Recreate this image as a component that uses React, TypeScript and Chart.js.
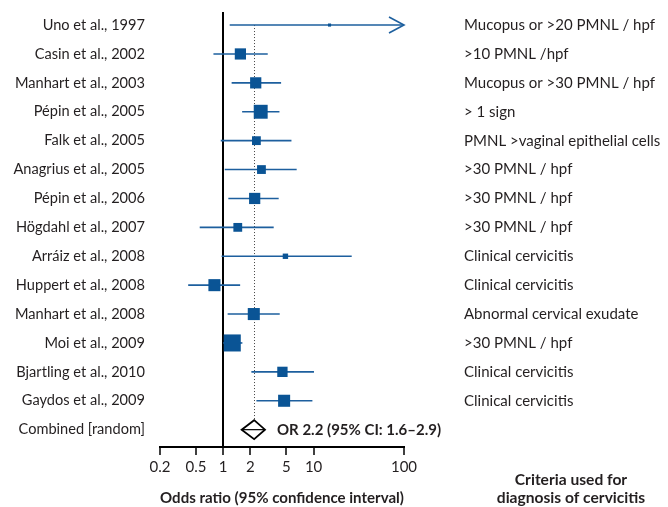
import React, { useEffect, useRef } from 'react';
import { Chart, registerables } from 'chart.js';

Chart.register(...registerables);

const studies = [
  'Uno et al., 1997',
  'Casin et al., 2002',
  'Manhart et al., 2003',
  'Pépin et al., 2005',
  'Falk et al., 2005',
  'Anagrius et al., 2005',
  'Pépin et al., 2006',
  'Högdahl et al., 2007',
  'Arráiz et al., 2008',
  'Huppert et al., 2008',
  'Manhart et al., 2008',
  'Moi et al., 2009',
  'Bjartling et al., 2010',
  'Gaydos et al., 2009',
  'Combined [random]',
];

const criteria = [
  'Mucopus or >20 PMNL / hpf',
  '>10 PMNL /hpf',
  'Mucopus or >30 PMNL / hpf',
  '> 1 sign',
  'PMNL >vaginal epithelial cells',
  '>30 PMNL / hpf',
  '>30 PMNL / hpf',
  '>30 PMNL / hpf',
  'Clinical cervicitis',
  'Clinical cervicitis',
  'Abnormal cervical exudate',
  '>30 PMNL / hpf',
  'Clinical cervicitis',
  'Clinical cervicitis',
  '',
];

const oddsRatios = [15, 1.55, 2.29, 2.6, 2.33, 2.65, 2.23, 1.45, 4.88, 0.8, 2.18, 1.26, 4.52, 4.72];
const ciLower = [1.18, 0.78, 1.24, 1.62, 0.94, 1.04, 1.14, 0.55, 0.96, 0.41, 1.12, 1.0, 2.05, 2.33];
const ciUpper = [150, 3.11, 4.37, 4.19, 5.69, 6.5, 4.11, 3.62, 26.4, 1.54, 4.22, 1.63, 10.1, 9.7];
const weights = [0.5, 6.5, 6.5, 10, 4, 4, 6.5, 4, 1.5, 7.5, 7.5, 15, 5.5, 7.5];

const pooledOR = 2.2;
const pooledLower = 1.6;
const pooledUpper = 2.9;
const pooledLabel = 'OR 2.2 (95% CI: 1.6–2.9)';

const xTicks = [0.2, 0.5, 1, 2, 5, 10, 100];
const xTitle = 'Odds ratio (95% confidence interval)';
const criteriaTitle = ['Criteria used for', 'diagnosis of cervicitis'];

const FONT = 'Lato';
const TEXT = '#231f20';
const SQUARE = '#0a5495';
const LINE = '#1d5f9e';

const forestPlugin = {
  id: 'forest',
  beforeDatasetsDraw(chart: any) {
    const { ctx, scales } = chart;
    const x = scales.x;
    const y = scales.y;
    const last = studies.length - 1;
    ctx.save();
    const px = Math.round(x.getPixelForValue(pooledOR)) + 0.5;
    ctx.strokeStyle = '#444';
    ctx.lineWidth = 1;
    ctx.setLineDash([1, 2]);
    ctx.beginPath();
    ctx.moveTo(px, y.getPixelForValue(0));
    ctx.lineTo(px, y.getPixelForValue(last) - 10);
    ctx.stroke();
    ctx.setLineDash([]);
    ctx.strokeStyle = LINE;
    ctx.lineWidth = 1.6;
    for (let i = 0; i < oddsRatios.length; i++) {
      const yy = y.getPixelForValue(i);
      const x0 = x.getPixelForValue(Math.max(ciLower[i], x.min));
      const x1 = x.getPixelForValue(Math.min(ciUpper[i], x.max));
      ctx.beginPath();
      ctx.moveTo(x0, yy);
      ctx.lineTo(x1, yy);
      ctx.stroke();
      if (ciUpper[i] > x.max) {
        ctx.beginPath();
        ctx.moveTo(x1 - 15, yy - 8);
        ctx.lineTo(x1, yy);
        ctx.lineTo(x1 - 15, yy + 8);
        ctx.stroke();
      }
    }
    ctx.restore();
  },
  afterDatasetsDraw(chart: any) {
    const { ctx, scales, chartArea } = chart;
    const x = scales.x;
    const y = scales.y;
    const last = studies.length - 1;
    const yy = y.getPixelForValue(last);
    const xl = x.getPixelForValue(pooledLower);
    const xc = x.getPixelForValue(pooledOR);
    const xr = x.getPixelForValue(pooledUpper);
    ctx.save();
    ctx.beginPath();
    ctx.moveTo(xl, yy);
    ctx.lineTo(xc, yy - 9.5);
    ctx.lineTo(xr, yy);
    ctx.lineTo(xc, yy + 9.5);
    ctx.closePath();
    ctx.fillStyle = '#fff';
    ctx.fill();
    ctx.strokeStyle = '#000';
    ctx.lineWidth = 1.8;
    ctx.stroke();
    ctx.beginPath();
    ctx.moveTo(xl, yy);
    ctx.lineTo(xr, yy);
    ctx.lineWidth = 1.2;
    ctx.stroke();

    ctx.fillStyle = TEXT;
    ctx.font = `bold 15px ${FONT}`;
    ctx.textAlign = 'left';
    ctx.textBaseline = 'middle';
    ctx.fillText(pooledLabel, xr + 12, yy);

    ctx.font = `bold 15.6px ${FONT}`;
    ctx.textAlign = 'center';
    const cx = chartArea.right + 167;
    ctx.fillText(criteriaTitle[0], cx, 480);
    ctx.fillText(criteriaTitle[1], cx, 498);
    ctx.restore();
  },
};

const fixVertical = (width: number) => (s: any) => {
  s.width = width;
  s.paddingTop = 0;
  s.paddingBottom = 0;
};

export default function App() {
  const ref = useRef<HTMLCanvasElement>(null);
  useEffect(() => {
    const rows = studies.map((_, i) => ({ value: i }));
    const chart = new Chart(ref.current as HTMLCanvasElement, {
      type: 'scatter',
      data: {
        datasets: [
          {
            data: oddsRatios.map((v, i) => ({ x: v, y: i })),
            pointStyle: 'rect',
            pointRadius: (c: any) => (4.4 * Math.sqrt(weights[c.dataIndex])) / 1.4142,
            backgroundColor: SQUARE,
            borderColor: SQUARE,
            borderWidth: 0,
          },
        ],
      },
      options: {
        animation: false,
        responsive: true,
        maintainAspectRatio: false,
        events: [],
        layout: { padding: { top: 9, left: 0, right: 0, bottom: 0 } },
        plugins: { legend: { display: false }, tooltip: { enabled: false } },
        scales: {
          x: {
            type: 'logarithmic',
            position: 'bottom',
            min: 0.2,
            max: 100,
            afterBuildTicks: (s: any) => {
              s.ticks = xTicks.map((v) => ({ value: v }));
            },
            afterFit: (s: any) => {
              s.height = 60;
            },
            ticks: {
              autoSkip: false,
              maxRotation: 0,
              padding: 3,
              color: TEXT,
              font: { family: FONT, size: 15 },
              callback: (v: any) => String(v),
            },
            grid: {
              color: (c: any) => (c.tick && c.tick.value === 1 ? '#000' : 'rgba(0,0,0,0)'),
              lineWidth: 2,
              tickColor: '#000',
              tickWidth: 1.5,
              tickLength: 8,
            },
            border: { display: true, color: '#000', width: 2 },
            title: {
              display: true,
              text: xTitle,
              color: TEXT,
              font: { family: FONT, size: 15.6, weight: 'bold' },
              padding: { top: 0, bottom: 0 },
            },
          },
          y: {
            type: 'linear',
            position: 'left',
            min: -0.45,
            max: 14.6,
            reverse: true,
            afterBuildTicks: (s: any) => {
              s.ticks = rows.map((r) => ({ ...r }));
            },
            afterFit: fixVertical(160),
            ticks: {
              autoSkip: false,
              padding: 15,
              color: TEXT,
              font: { family: FONT, size: 14.6 },
              callback: (v: any) => studies[v] ?? '',
            },
            grid: { display: false, drawTicks: false },
            border: { display: false },
          },
          y2: {
            type: 'linear',
            position: 'right',
            min: -0.45,
            max: 14.6,
            reverse: true,
            afterBuildTicks: (s: any) => {
              s.ticks = rows.map((r) => ({ ...r }));
            },
            afterFit: fixVertical(264),
            ticks: {
              autoSkip: false,
              padding: 60,
              color: TEXT,
              font: { family: FONT, size: 15 },
              callback: (v: any) => criteria[v] ?? '',
            },
            grid: { display: false, drawTicks: false },
            border: { display: false },
          },
        },
      } as any,
      plugins: [forestPlugin],
    });
    return () => chart.destroy();
  }, []);
  return (
    <div style={{ position: 'absolute', left: 0, top: 0, width: 668, height: 507 }}>
      <canvas ref={ref} />
    </div>
  );
}
